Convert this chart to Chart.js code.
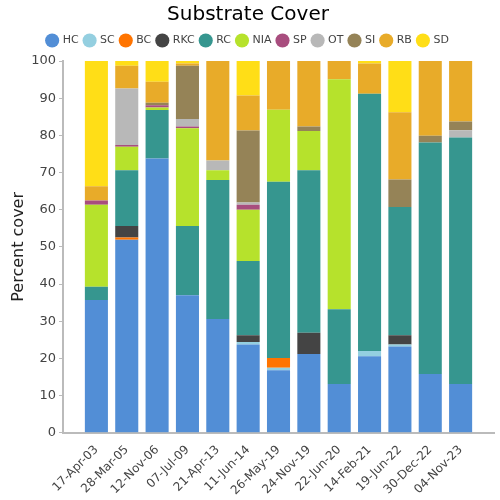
<!DOCTYPE html>
<html>
<head>
<meta charset="utf-8">
<script src="https://cdn.jsdelivr.net/npm/chart.js@4"></script>
<style>
  html, body { margin: 0; padding: 0; background: #fff; }
  #wrap { width: 500px; height: 500px; }
</style>
</head>
<body>
<div id="wrap"><canvas id="coverChart"></canvas></div>
<script>
// survey dates (x axis)
const dates = ['17-Apr-03','28-Mar-05','12-Nov-06','07-Jul-09','21-Apr-13','11-Jun-14','26-May-19','24-Nov-19','22-Jun-20','14-Feb-21','19-Jun-22','30-Dec-22','04-Nov-23'];

// percent cover per substrate, one value per date
const HC  = [35.7, 51.9, 73.8, 37.0, 30.6, 23.7, 16.8, 21.2, 13.1, 20.6, 23.2, 15.8, 13.1];
const SC  = [0, 0, 0, 0, 0, 0.7, 0.7, 0, 0, 1.4, 0.5, 0, 0];
const BC  = [0, 0.6, 0, 0, 0, 0, 2.6, 0, 0, 0, 0, 0, 0];
const RKC = [0, 3.1, 0, 0, 0, 1.8, 0, 5.7, 0, 0, 2.5, 0, 0];
const RC  = [3.6, 15.0, 13.0, 18.6, 37.4, 20.0, 47.4, 43.7, 20.1, 69.2, 34.5, 62.3, 66.3];
const NIA = [22.0, 6.3, 0.7, 26.3, 2.6, 13.8, 19.4, 10.6, 61.9, 0, 0, 0, 0];
const SP  = [1.2, 0.5, 0.6, 0.5, 0, 1.3, 0, 0, 0, 0, 0, 0, 0];
const OT  = [0, 15.2, 0, 2.0, 2.6, 0.6, 0, 0, 0, 0, 0, 0, 2.0];
const SI  = [0, 0, 0.7, 14.3, 0, 19.4, 0, 1.2, 0, 0, 7.4, 1.8, 2.3];
const RB  = [3.8, 6.1, 5.6, 0.6, 26.8, 9.4, 13.1, 17.6, 4.9, 8.1, 18.1, 20.1, 16.3];
const SD  = [33.7, 1.3, 5.6, 0.7, 0, 9.3, 0, 0, 0, 0.7, 13.8, 0, 0];

const seriesNames = ['HC','SC','BC','RKC','RC','NIA','SP','OT','SI','RB','SD'];
const seriesData = [HC, SC, BC, RKC, RC, NIA, SP, OT, SI, RB, SD];
const seriesColors = ['#528ed6','#94cfe0','#ff7400','#444444','#36968f','#b6e22c','#a84d7e','#b8b8b8','#958357','#e8ab29','#ffde17'];

Chart.defaults.font.family = "'DejaVu Sans', sans-serif";
Chart.defaults.color = '#444';

let datasets = [];
for (let i = 0; i < seriesNames.length; i++) {
	datasets.push({
		label: seriesNames[i],
		data: seriesData[i].map((v, j) => ({x: j, y: v})),
		backgroundColor: seriesColors[i],
		borderWidth: 0,
		barPercentage: 0.95,
		categoryPercentage: 0.8
	});
}

let ctx = document.getElementById('coverChart').getContext('2d');
let coverGraph = new Chart(ctx, {
	type: 'bar',
	data: { datasets: datasets },
	options: {
		responsive: true,
		maintainAspectRatio: false,
		animation: false,
		layout: { padding: { left: 2, right: 6, top: 0, bottom: 0 } },
		plugins: {
			title: {
				display: true,
				text: 'Substrate Cover',
				color: '#000',
				font: { size: 20, weight: 'normal' },
				padding: { top: 3, bottom: 2 }
			},
			// empty subtitle under the legend, only used as a spacer
			subtitle: {
				display: true,
				text: ' ',
				weight: 500,
				font: { size: 5, lineHeight: 1 },
				padding: { top: 0, bottom: 0 }
			},
			legend: {
				labels: {
					usePointStyle: true,
					pointStyle: 'circle',
					boxWidth: 10,
					boxHeight: 10,
					padding: 6,
					font: { size: 11 },
					color: '#444'
				}
			},
			tooltip: { enabled: false }
		},
		scales: {
			x: {
				type: 'linear',
				stacked: true,
				offset: false,
				min: -1.1,
				max: 13.1,
				afterBuildTicks: (scale) => {
					scale.ticks = dates.map((d, i) => ({value: i}));
				},
				afterFit: (scale) => {
					// first rotated label may hang left of the y axis
					scale.paddingLeft = 0;
				},
				ticks: {
					autoSkip: false,
					maxRotation: 45,
					minRotation: 45,
					padding: 2,
					font: { size: 12 },
					color: '#444',
					callback: (v) => dates[v] !== undefined ? dates[v] : ''
				},
				grid: { display: false },
				border: { display: true, color: '#bbb', width: 2 }
			},
			y: {
				stacked: true,
				min: 0,
				max: 100,
				ticks: { stepSize: 5, font: { size: 13 }, color: '#444' },
				grid: { drawOnChartArea: false, tickLength: 4, color: '#bbb' },
				border: { display: true, color: '#bbb', width: 2 },
				title: {
					display: true,
					text: 'Percent cover',
					font: { size: 16 },
					color: '#222',
					padding: { top: 7, bottom: 0 }
				}
			}
		}
	}
});
</script>
</body>
</html>
